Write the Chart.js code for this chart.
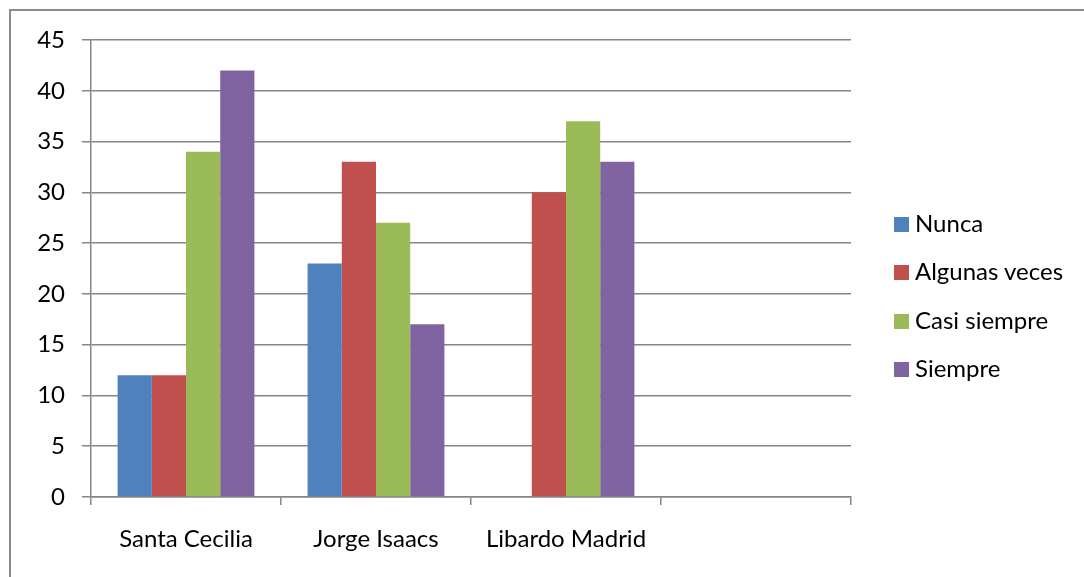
<!DOCTYPE html>
<html>
<head>
<meta charset="utf-8">
<script src="https://cdn.jsdelivr.net/npm/chart.js@4"></script>
<style>
  html, body { margin: 0; padding: 0; background: #fff; }
  #wrap { position: relative; width: 1084px; height: 577px; overflow: hidden; }
  #frame { position: absolute; left: 9px; top: 9px; width: 1200px; height: 700px;
           border-left: 2px solid #8c8c8c; border-top: 2px solid #8c8c8c; }
  #chart { position: absolute; left: 0; top: 0; }
  .legend { position: absolute; left: 894px; font-family: Lato, "Open Sans", sans-serif;
            font-size: 24px; color: #000; }
  .legend div { position: absolute; white-space: nowrap; height: 24px; line-height: 24px; }
  .legend span { display: inline-block; width: 15px; height: 15px; margin-right: 6px; vertical-align: 0px; }
</style>
</head>
<body>
<div id="wrap">
  <div id="frame"></div>
  <canvas id="chart" width="1084" height="577"></canvas>
  <div class="legend" id="legend"></div>
</div>
<script>
// datos
var categorias = ["Santa Cecilia", "Jorge Isaacs", "Libardo Madrid", ""];
var nunca = [12, 23, 0, null];
var algunasVeces = [12, 33, 30, null];
var casiSiempre = [34, 27, 37, null];
var siempre = [42, 17, 33, null];
var series = ["Nunca", "Algunas veces", "Casi siempre", "Siempre"];
var colores = ["#4F81BD", "#C0504D", "#9BBB59", "#8064A2"];

var valores = [nunca, algunasVeces, casiSiempre, siempre];
var gris = "#868686";
var fuente = { family: "Lato", size: 24 };

// leyenda
var legend = document.getElementById("legend");
var legendY = [211, 259, 308, 356];
series.forEach(function (nombre, i) {
  var item = document.createElement("div");
  item.style.top = legendY[i] + "px";
  item.innerHTML = '<span style="background:' + colores[i] + '"></span>' + nombre;
  legend.appendChild(item);
});

var ctx = document.getElementById("chart").getContext("2d");
new Chart(ctx, {
  type: "bar",
  data: {
    labels: categorias,
    datasets: series.map(function (nombre, i) {
      return {
        label: nombre,
        data: valores[i],
        backgroundColor: colores[i],
        borderWidth: 0,
        categoryPercentage: 0.72,
        barPercentage: 1.0,
      };
    }),
  },
  options: {
    responsive: false,
    animation: false,
    layout: { padding: { left: 0, top: 40, right: 233, bottom: 0 } },
    plugins: { legend: { display: false }, tooltip: { enabled: false } },
    scales: {
      x: {
        grid: { drawOnChartArea: false, drawTicks: true, tickLength: 8, color: gris, lineWidth: 1.5, offset: true },
        border: { color: gris, width: 1.5 },
        ticks: { color: "#000", font: fuente, padding: 20 },
        afterFit: function (scale) { scale.height = 80; },
      },
      y: {
        min: 0,
        max: 45,
        ticks: { stepSize: 5, color: "#000", font: fuente, padding: 17 },
        grid: { color: gris, lineWidth: 1.5, tickLength: 9 },
        border: { color: gris, width: 1.5 },
        afterFit: function (scale) { scale.width = 91; },
      },
    },
  },
});
</script>
</body>
</html>
